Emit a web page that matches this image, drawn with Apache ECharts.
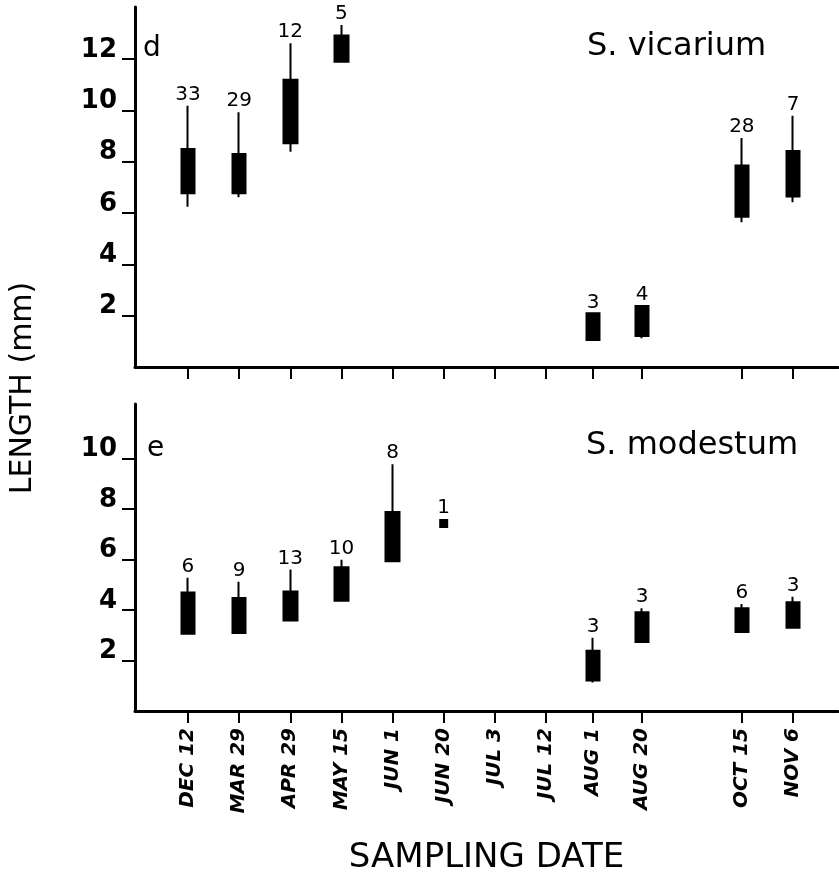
<!DOCTYPE html>
<html>
<head>
<meta charset="utf-8">
<title>Length by sampling date</title>
<script src="https://cdn.jsdelivr.net/npm/echarts@6/dist/echarts.min.js"></script>
<style>
  html, body { margin: 0; padding: 0; background: #fff; }
  #main { width: 839px; height: 876px; }
</style>
</head>
<body>
<div id="main"></div>
<script>
// sampling dates and where they sit along the axis (gap before OCT 15)
var dateLabels = ['DEC 12', 'MAR 29', 'APR 29', 'MAY 15', 'JUN 1', 'JUN 20',
                  'JUL 3', 'JUL 12', 'AUG 1', 'AUG 20', 'OCT 15', 'NOV 6'];
var datePos = [0, 1, 2, 3, 4, 5, 6, 7, 7.92, 8.88, 10.83, 11.83];

// d: S. vicarium (index into dateLabels)
var vicDates   = [0, 1, 2, 3, 8, 9, 10, 11];
var vicLow     = [6.25, 6.62, 8.39, 11.90, 1.05, 1.12, 5.64, 6.42];
var vicBoxLow  = [6.77, 6.77, 8.72, 11.90, 1.05, 1.21, 5.86, 6.64];
var vicBoxHigh = [8.50, 8.30, 11.19, 12.92, 2.09, 2.38, 7.85, 8.42];
var vicHigh    = [10.18, 9.93, 12.62, 13.33, 2.09, 2.38, 8.92, 9.79];
var vicN       = [33, 29, 12, 5, 3, 4, 28, 7];

// e: S. modestum
var modDates   = [0, 1, 2, 3, 4, 8, 9, 10, 11];
var modLow     = [3.06, 3.09, 3.58, 4.36, 5.93, 1.13, 2.73, 3.13, 3.29];
var modBoxLow  = [3.06, 3.09, 3.58, 4.36, 5.93, 1.21, 2.73, 3.13, 3.29];
var modBoxHigh = [4.69, 4.47, 4.73, 5.69, 7.88, 2.38, 3.91, 4.07, 4.30];
var modHigh    = [5.27, 5.12, 5.60, 5.99, 9.77, 2.90, 4.07, 4.23, 4.52];
var modN       = [6, 9, 13, 10, 8, 3, 3, 6, 3];
// single fish on JUN 20
var modSingleDate = 5;
var modSingleValue = 7.42;
var modSingleN = 1;

var vicTicks = [2, 4, 6, 8, 10, 12];
var modTicks = [2, 4, 6, 8, 10];

var FONT = 'DejaVu Sans';

function candles(dates, lo, bl, bh, hi) {
    return dates.map(function (d, i) {
        return [datePos[d], bl[i], bh[i], lo[i], hi[i]];
    });
}
function counts(dates, hi, n) {
    return dates.map(function (d, i) {
        return [datePos[d], hi[i], n[i]];
    });
}

function xAxisFor(gridIndex, showLabels) {
    return {
        type: 'value',
        gridIndex: gridIndex,
        min: -1.036,
        max: 12.71,
        splitLine: { show: false },
        axisLine: { onZero: false, lineStyle: { color: '#000', width: 3 } },
        axisTick: { customValues: datePos, length: 12, lineStyle: { color: '#000', width: 2 } },
        axisLabel: {
            show: showLabels,
            customValues: datePos,
            rotate: 90,
            margin: 17,
            color: '#000',
            fontFamily: FONT,
            fontSize: 20,
            fontWeight: 'bold',
            fontStyle: 'italic',
            formatter: function (v) {
                var i = datePos.indexOf(v);
                return i >= 0 ? dateLabels[i] : '';
            }
        },
        name: showLabels ? 'SAMPLING DATE' : '',
        nameLocation: 'middle',
        nameGap: 130,
        nameTextStyle: { color: '#000', fontFamily: FONT, fontSize: 34 }
    };
}

function yAxisFor(gridIndex, max, ticks) {
    return {
        type: 'value',
        gridIndex: gridIndex,
        min: 0,
        max: max,
        splitLine: { show: false },
        axisLine: { onZero: false, lineStyle: { color: '#000', width: 3 } },
        axisTick: { customValues: ticks, length: 13, lineStyle: { color: '#000', width: 2 } },
        axisLabel: {
            customValues: ticks,
            margin: 18,
            color: '#000',
            fontFamily: FONT,
            fontSize: 26,
            fontWeight: 'bold',
            verticalAlign: 'bottom',
            lineHeight: 18
        }
    };
}

var boxStyle = {
    color: '#000', color0: '#000',
    borderColor: '#000', borderColor0: '#000',
    borderWidth: 2
};

var countLabel = {
    show: true,
    position: 'top',
    distance: 1,
    color: '#000',
    fontFamily: FONT,
    fontSize: 20,
    lineHeight: 20,
    formatter: function (p) { return p.value[2]; }
};

var myChart = echarts.init(document.getElementById('main'));

myChart.setOption({
    animation: false,
    backgroundColor: '#fff',
    grid: [
        { left: 135, top: 7, width: 703, height: 360 },
        { left: 135, top: 404, width: 703, height: 311 }
    ],
    xAxis: [xAxisFor(0, false), xAxisFor(1, true)],
    yAxis: [yAxisFor(0, 14.03, vicTicks), yAxisFor(1, 12.15, modTicks)],
    graphic: [
        { type: 'text', left: 143, top: 35, style: { text: 'd', font: '28px "DejaVu Sans"', fill: '#000' } },
        { type: 'text', left: 147, top: 435, style: { text: 'e', font: '28px "DejaVu Sans"', fill: '#000' } },
        { type: 'text', left: 587, top: 31, style: { text: 'S. vicarium', font: '32px "DejaVu Sans"', fill: '#000' } },
        { type: 'text', left: 586, top: 430, style: { text: 'S. modestum', font: '32px "DejaVu Sans"', fill: '#000' } },
        {
            type: 'text', x: 23, y: 388, rotation: Math.PI / 2,
            style: { text: 'LENGTH (mm)', font: '30px "DejaVu Sans"', fill: '#000', align: 'center', verticalAlign: 'middle' }
        }
    ],
    series: [
        {
            type: 'candlestick', xAxisIndex: 0, yAxisIndex: 0,
            barWidth: 14, itemStyle: boxStyle,
            data: candles(vicDates, vicLow, vicBoxLow, vicBoxHigh, vicHigh)
        },
        {
            type: 'scatter', xAxisIndex: 0, yAxisIndex: 0,
            symbolSize: 0, itemStyle: { opacity: 1 }, label: countLabel,
            data: counts(vicDates, vicHigh, vicN)
        },
        {
            type: 'candlestick', xAxisIndex: 1, yAxisIndex: 1,
            barWidth: 14, itemStyle: boxStyle,
            data: candles(modDates, modLow, modBoxLow, modBoxHigh, modHigh)
        },
        {
            type: 'scatter', xAxisIndex: 1, yAxisIndex: 1,
            symbolSize: 0, itemStyle: { opacity: 1 }, label: countLabel,
            data: counts(modDates, modHigh, modN)
        },
        {
            type: 'scatter', xAxisIndex: 1, yAxisIndex: 1,
            symbol: 'rect', symbolSize: 9,
            itemStyle: { color: '#000', opacity: 1 },
            label: countLabel,
            data: [[datePos[modSingleDate], modSingleValue, modSingleN]]
        }
    ]
});
</script>
</body>
</html>
